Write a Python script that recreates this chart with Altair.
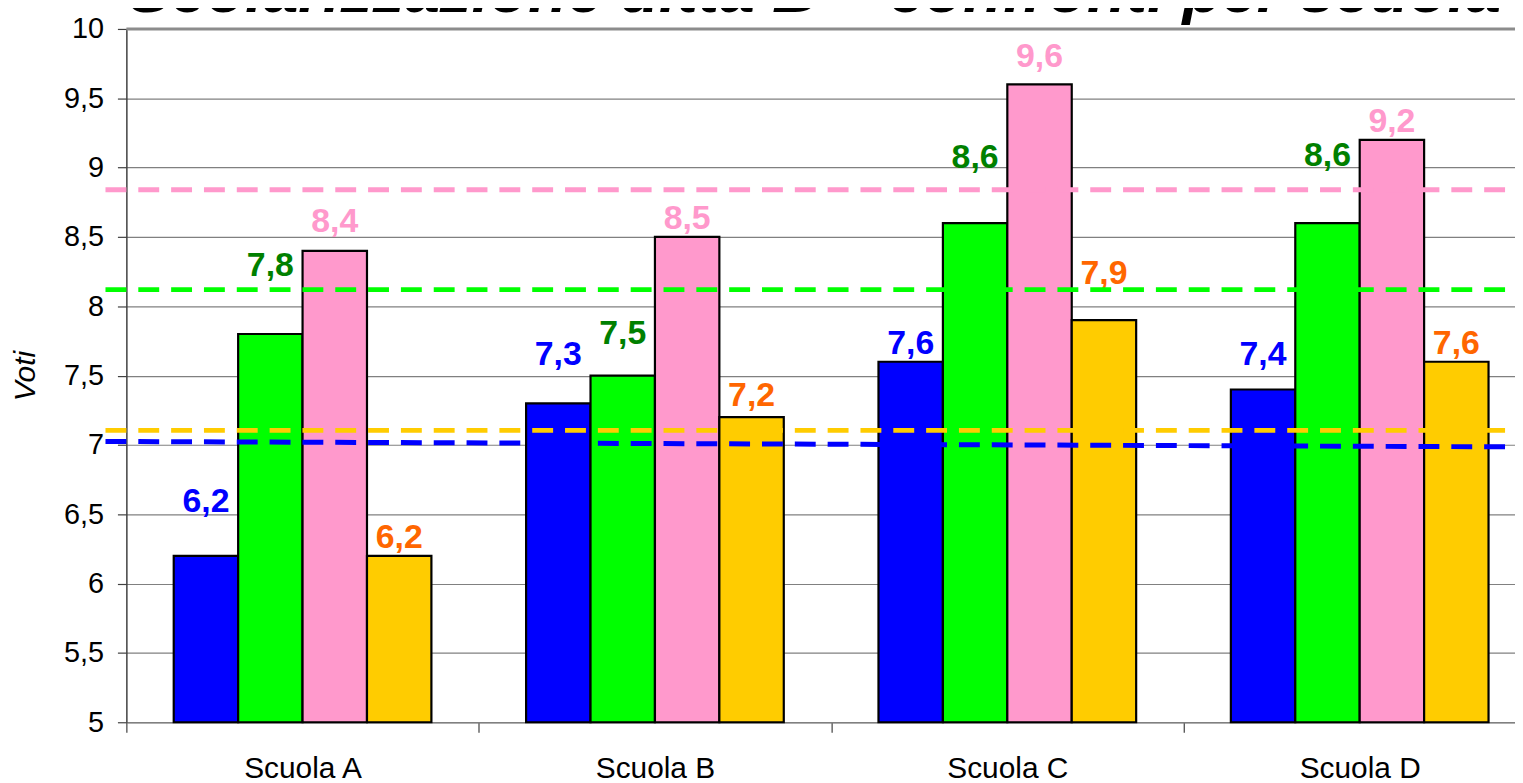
import altair as alt
import pandas as pd

# ---------------- data ----------------
schools = ["Scuola A", "Scuola B", "Scuola C", "Scuola D"]
series = ["Serie 1", "Serie 2", "Serie 3", "Serie 4"]

blue_vals = [6.2, 7.3, 7.6, 7.4]
green_vals = [7.8, 7.5, 8.6, 8.6]
pink_vals = [8.4, 8.5, 9.6, 9.2]
yellow_vals = [6.2, 7.2, 7.9, 7.6]

# where each value label sits (in "Voti" units, as placed in the original)
blue_label_at = [6.585, 7.65, 7.73, 7.65]
green_label_at = [8.29, 7.80, 9.07, 9.08]
pink_label_at = [8.61, 8.63, 9.80, 9.33]
yellow_label_at = [6.33, 7.35, 8.23, 7.73]

# dashed reference lines (start / end level)
mean_start = [7.025, 8.12, 8.84, 7.105]
mean_end = [6.985, 8.12, 8.84, 7.105]

y_ticks = [5, 5.5, 6, 6.5, 7, 7.5, 8, 8.5, 9, 9.5, 10]
title_text = "Scolarizzazione ditta B – confronti per scuola"

bar_colors = ["#0000FF", "#00FF00", "#FF99CC", "#FFCC00"]
label_colors = ["#0000FF", "#008000", "#FF99CC", "#FF6600"]
line_colors = ["#0000FF", "#00FF00", "#FF99CC", "#FFCC00"]

# ---------------- tables ----------------
all_vals = [blue_vals, green_vals, pink_vals, yellow_vals]
all_labs = [blue_label_at, green_label_at, pink_label_at, yellow_label_at]
rows = []
for i, s in enumerate(schools):
    for j, ser in enumerate(series):
        rows.append({
            "school": s,
            "series": ser,
            "value": all_vals[j][i],
            "label_at": all_labs[j][i],
            "bar_color": bar_colors[j],
            "label_color": label_colors[j],
        })
df = pd.DataFrame(rows)

lines_df = pd.DataFrame({
    "series": series,
    "value": mean_start,
    "value_end": mean_end,
    "line_color": line_colors,
})

title_df = pd.DataFrame({"t": [title_text]})

FONT = "Liberation Sans"
PLOT_W = 1388
PLOT_H = 697
X_RANGE = 1417

x_enc = alt.X(
    "school:N",
    sort=schools,
    scale=alt.Scale(domain=schools, range=[0, X_RANGE], paddingInner=0, paddingOuter=0),
    axis=alt.Axis(
        title=None,
        labelAngle=0,
        labelFont=FONT,
        labelFontSize=30,
        labelColor="#000000",
        labelPadding=22,
        tickBand="extent",
        tickSize=10,
        tickColor="#404040",
        tickWidth=1.2,
        domainColor="#808080",
        domainWidth=1.5,
        grid=False,
    ),
)
xoff_enc = alt.XOffset(
    "series:N",
    sort=series,
    scale=alt.Scale(domain=series, paddingInner=0, paddingOuter=0.735),
)
y_axis = alt.Axis(
    title="Voti",
    titleFont=FONT,
    titleFontSize=30,
    titleFontStyle="italic",
    titleFontWeight="normal",
    titleColor="#000000",
    titlePadding=23,
    values=y_ticks,
    labelExpr="replace(toString(datum.value), '.', ',')",
    labelFont=FONT,
    labelFontSize=29,
    labelColor="#000000",
    labelPadding=14,
    tickSize=9,
    tickColor="#404040",
    tickWidth=1.2,
    domainColor="#404040",
    domainWidth=1.5,
    grid=True,
    gridColor="#808080",
    gridWidth=1.2,
)
y_scale = alt.Scale(domain=[5, 10], nice=False, zero=False)

bars = alt.Chart(df).mark_bar(stroke="#000000", strokeWidth=2.2).encode(
    x=x_enc,
    xOffset=xoff_enc,
    y=alt.Y("value:Q", scale=y_scale, axis=y_axis),
    y2=alt.datum(5),
    color=alt.Color("bar_color:N", scale=None),
)

top_line = alt.Chart(title_df).mark_rule(color="#8c8c8c", strokeWidth=3).encode(
    y=alt.datum(10),
    x=alt.value(0),
    x2=alt.value(X_RANGE),
)

labels = alt.Chart(df).transform_calculate(
    txt="replace(format(datum.value, '.1f'), '.', ',')"
).mark_text(
    font=FONT, fontSize=34, fontWeight="bold", baseline="middle", align="center"
).encode(
    x=x_enc,
    xOffset=xoff_enc,
    y=alt.Y("label_at:Q", scale=y_scale, axis=y_axis),
    text="txt:N",
    color=alt.Color("label_color:N", scale=None),
)

mean_lines = alt.Chart(lines_df).mark_rule(
    strokeWidth=5, strokeDash=[21, 12], strokeCap="butt"
).encode(
    x=alt.value(-21),
    x2=alt.value(X_RANGE + 20),
    y=alt.Y("value:Q", scale=y_scale, axis=y_axis),
    y2="value_end:Q",
    color=alt.Color("line_color:N", scale=None),
)

title = alt.Chart(title_df).mark_text(
    font=FONT, fontSize=64, fontWeight="bold", fontStyle="italic",
    align="center", baseline="alphabetic", color="#000000",
).encode(
    x=alt.value(692),
    y=alt.value(-17),
    text="t:N",
)

chart = alt.layer(bars, top_line, labels, mean_lines, title).properties(
    width=PLOT_W,
    height=PLOT_H,
    autosize=alt.AutoSizeParams(type="none"),
    padding={"left": 119, "top": 19, "right": 8, "bottom": 59},
    background="#FFFFFF",
).configure_view(stroke=None)

chart.save("out.html", embed_options={"renderer": "svg", "actions": False})
